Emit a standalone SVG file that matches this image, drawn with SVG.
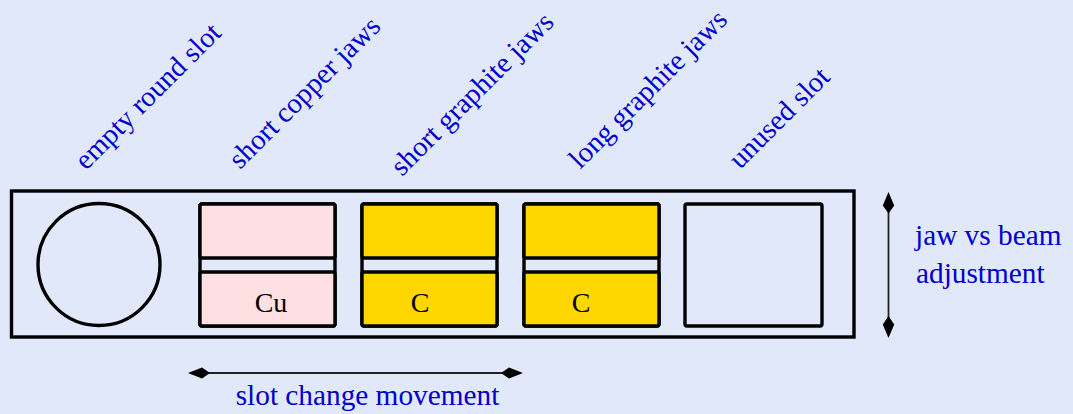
<svg xmlns="http://www.w3.org/2000/svg" width="1073" height="414" viewBox="0 0 1073 414">
<style>
.lbl{font-family:"Liberation Serif","Times New Roman",serif;font-size:29.3px;fill:#0000cc}
.rl{font-family:"Liberation Serif","Times New Roman",serif;font-size:28.5px;fill:#0000cc}
.jt{font-family:"Liberation Serif","Times New Roman",serif;font-size:28px;fill:#000;text-anchor:middle}
.box{fill:#e0e8fa;stroke:#000;stroke-width:3.4}
.cu{fill:#ffe0e2;stroke:#000;stroke-width:3.4}
.gr{fill:#ffd700;stroke:#000;stroke-width:3.4}
.ln{stroke:#222;stroke-width:1.8;fill:none}
.ah{fill:#000}
</style>
<rect width="1073" height="414" fill="#e0e8fa"/>
<g id="holder">
<rect class="box" x="11.5" y="191" width="842.5" height="146"/>
</g>
<g id="slot-round">
<circle class="box" cx="99" cy="264.5" r="61"/>
<text class="rl" transform="translate(86,171) rotate(-45)">empty round slot</text>
</g>
<g id="slot-copper">
<rect class="box" x="200" y="204" width="135" height="122" rx="2"/>
<rect class="cu" x="200" y="204" width="135" height="54" rx="2"/>
<rect class="cu" x="200" y="272" width="135" height="54" rx="2"/>
<text class="jt" x="271" y="312">Cu</text>
<text class="rl" transform="translate(240,170) rotate(-45)">short copper jaws</text>
</g>
<g id="slot-short-graphite">
<rect class="box" x="362" y="204" width="135" height="122" rx="2"/>
<rect class="gr" x="362" y="204" width="135" height="54" rx="2"/>
<rect class="gr" x="362" y="272" width="135" height="54" rx="2"/>
<text class="jt" x="420" y="312">C</text>
<text class="rl" transform="translate(402,177) rotate(-45)">short graphite jaws</text>
</g>
<g id="slot-long-graphite">
<rect class="box" x="524" y="204" width="135" height="122" rx="2"/>
<rect class="gr" x="524" y="204" width="135" height="54" rx="2"/>
<rect class="gr" x="524" y="272" width="135" height="54" rx="2"/>
<text class="jt" x="581" y="312">C</text>
<text class="rl" transform="translate(580,170) rotate(-45)">long graphite jaws</text>
</g>
<g id="slot-unused">
<rect class="box" x="685" y="204" width="137" height="122" rx="2"/>
<text class="rl" transform="translate(740,170) rotate(-45)">unused slot</text>
</g>
<g id="connectors">
<line class="ln" x1="200" y1="373" x2="511" y2="373"/>
<path class="ah" d="M188,373 L202,367.5 L210,373 L202,378.5 Z"/>
<path class="ah" d="M523,373 L509,367.5 L501,373 L509,378.5 Z"/>
<line class="ln" x1="888.5" y1="205" x2="888.5" y2="325"/>
<path class="ah" d="M888.5,192 L894.2,205.5 L888.5,213.5 L882.8,205.5 Z"/>
<path class="ah" d="M888.5,338 L894.2,324.5 L888.5,316 L882.8,324.5 Z"/>
</g>
<g id="labels">
<text class="lbl" x="367.5" y="405" text-anchor="middle">slot change movement</text>
<text class="lbl" x="915" y="245">jaw vs beam</text>
<text class="lbl" x="916" y="283">adjustment</text>
</g>
</svg>
